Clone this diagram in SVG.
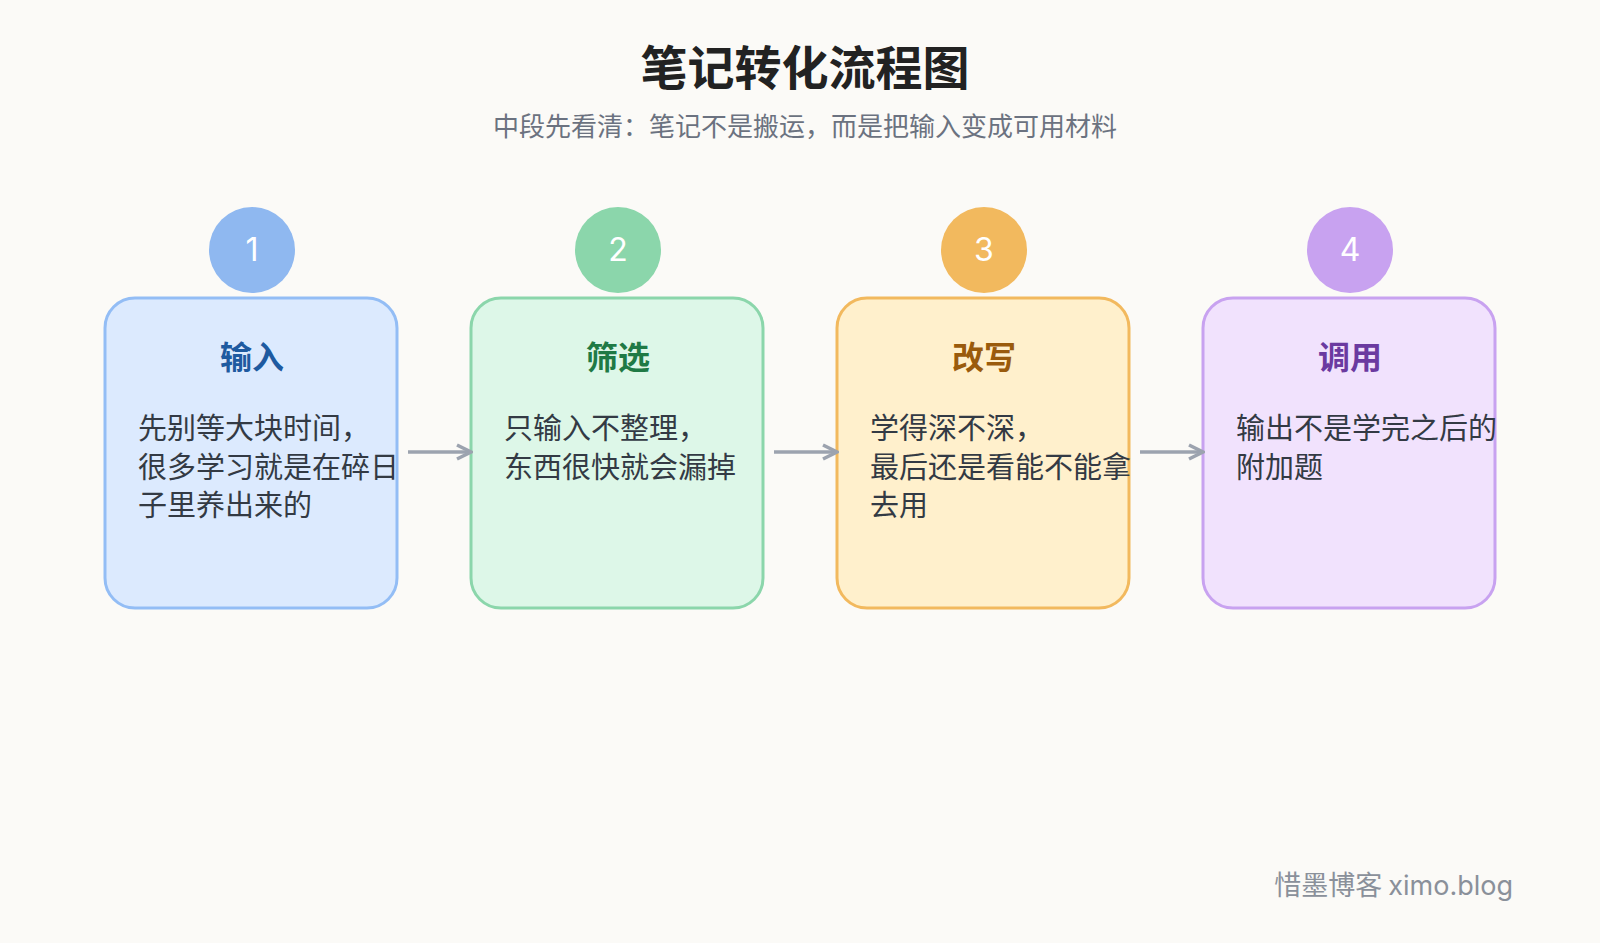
<svg xmlns="http://www.w3.org/2000/svg" width="1600" height="943" viewBox="0 0 1600 943">
<style>
text{font-family:"Noto Sans CJK SC","Noto Sans",sans-serif}
.box{stroke-width:3}
.num{font-family:Inter,"Noto Sans",sans-serif;font-size:32px;fill:#fff;text-anchor:middle}
.h{font-size:32px;font-weight:bold;text-anchor:middle}
.b{font-size:29px;fill:#333a44}
.c{stroke:#9ca3af;stroke-width:3.5;fill:none}
</style>
<defs><marker id="ah" viewBox="0 0 10 10" refX="9" refY="5" markerWidth="5" markerHeight="5" orient="auto"><path d="M1 1L9 5L1 9" fill="none" stroke="#9ca3af" stroke-width="2"/></marker></defs>
<rect width="1600" height="943" fill="#fbfaf7"/>
<text x="805" y="85" font-size="47" font-weight="bold" text-anchor="middle" fill="#222">笔记转化流程图</text>
<text x="805" y="136" font-size="26" text-anchor="middle" fill="#6b7280">中段先看清：笔记不是搬运，而是把输入变成可用材料</text>
<g id="n1"><rect class="box" x="105" y="298" width="292" height="310" rx="30" fill="#dceafe" stroke="#93bdf5"/><circle cx="252" cy="250" r="43" fill="#8fb8f0"/><text class="num" x="252" y="261">1</text><text class="h" x="252" y="369" fill="#1e5aa0">输入</text><text class="b" x="138" y="439">先别等大块时间，</text><text class="b" x="138" y="478">很多学习就是在碎日</text><text class="b" x="138" y="516">子里养出来的</text></g>
<g id="n2"><rect class="box" x="471" y="298" width="292" height="310" rx="30" fill="#ddf7e8" stroke="#8bd6ab"/><circle cx="618" cy="250" r="43" fill="#8bd6ab"/><text class="num" x="618" y="261">2</text><text class="h" x="618" y="369" fill="#1f7a45">筛选</text><text class="b" x="504" y="439">只输入不整理，</text><text class="b" x="504" y="478">东西很快就会漏掉</text></g>
<g id="n3"><rect class="box" x="837" y="298" width="292" height="310" rx="30" fill="#fff0cc" stroke="#f2b95e"/><circle cx="984" cy="250" r="43" fill="#f2b95e"/><text class="num" x="984" y="261">3</text><text class="h" x="984" y="369" fill="#9a5b0c">改写</text><text class="b" x="870" y="439">学得深不深，</text><text class="b" x="870" y="478">最后还是看能不能拿</text><text class="b" x="870" y="516">去用</text></g>
<g id="n4"><rect class="box" x="1203" y="298" width="292" height="310" rx="30" fill="#f1e2fd" stroke="#c8a2f0"/><circle cx="1350" cy="250" r="43" fill="#c8a2f0"/><text class="num" x="1350" y="261">4</text><text class="h" x="1350" y="369" fill="#6b3aa0">调用</text><text class="b" x="1236" y="439">输出不是学完之后的</text><text class="b" x="1236" y="478">附加题</text></g>
<g id="connectors"><path class="c" d="M408 452H471" marker-end="url(#ah)"/><path class="c" d="M774 452H837" marker-end="url(#ah)"/><path class="c" d="M1140 452H1203" marker-end="url(#ah)"/></g>
<text x="1513" y="895" font-size="27" text-anchor="end" fill="#8a909a">惜墨博客 <tspan font-family="Inter,sans-serif">ximo.blog</tspan></text>
</svg>
